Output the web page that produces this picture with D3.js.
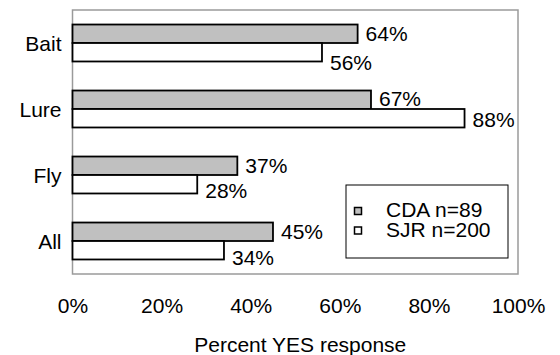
<!DOCTYPE html>
<html>
<head>
<meta charset="utf-8">
<script src="https://cdn.jsdelivr.net/npm/d3@7"></script>
<style>
  html, body { margin: 0; padding: 0; background: #fff; }
  svg text { font-family: "Liberation Sans", Arial, sans-serif; fill: #000; }
</style>
</head>
<body>
<svg id="chart" width="560" height="355"></svg>
<script>
// Share of anglers answering YES, by gear type
const categories = ["Bait", "Lure", "Fly", "All"];
const cdaValues = [64, 67, 37, 45];
const sjrValues = [56, 88, 28, 34];
const seriesNames = ["CDA n=89", "SJR n=200"];
const xTicks = [0, 20, 40, 60, 80, 100];
const xTitle = "Percent YES response";

// Layout
const W = 560, H = 355;
const plot = { left: 72.5, top: 10, right: 518, bottom: 274 };
const fontSize = 21;
const colors = ["#c0c0c0", "#ffffff"];
// extra downward shift of value labels so neighbouring labels don't collide
const labelNudge = [[0, -1, 0, 0], [10.5, 1, 6.5, 7]];

const svg = d3.select("#chart");

const x = d3.scaleLinear().domain([0, 100]).range([plot.left, plot.right]);
const y = d3.scaleBand().domain(categories).range([plot.top, plot.bottom])
  .paddingInner(0.44).paddingOuter(0.22);
const ySub = d3.scaleBand().domain([0, 1]).range([0, y.bandwidth()]);

const series = [cdaValues, sjrValues];

// Plot frame
svg.append("rect")
  .attr("x", plot.left).attr("y", plot.top)
  .attr("width", plot.right - plot.left).attr("height", plot.bottom - plot.top)
  .attr("fill", "none").attr("stroke", "#9a9a9a").attr("stroke-width", 1.5);

// Bars
series.forEach((vals, s) => {
  svg.append("g").selectAll("rect")
    .data(vals)
    .join("rect")
    .attr("x", x(0))
    .attr("y", (d, i) => y(categories[i]) + ySub(s))
    .attr("width", d => x(d) - x(0))
    .attr("height", ySub.bandwidth())
    .attr("fill", colors[s])
    .attr("stroke", "#000")
    .attr("stroke-width", 1.8);
});

// Value labels
series.forEach((vals, s) => {
  svg.append("g").selectAll("text")
    .data(vals)
    .join("text")
    .attr("x", d => x(d) + 8)
    .attr("y", (d, i) => y(categories[i]) + ySub(s) + ySub.bandwidth() / 2 + 7.5 + labelNudge[s][i])
    .attr("font-size", fontSize)
    .text(d => d + "%");
});

// Category axis (labels only)
const yAxis = svg.append("g")
  .attr("transform", `translate(${plot.left},0)`)
  .call(d3.axisLeft(y).tickSize(0).tickPadding(11));
yAxis.select(".domain").remove();
yAxis.selectAll("text")
  .attr("font-size", fontSize)
  .attr("font-family", null)
  .attr("dy", "0.36em");

// Value axis (labels only)
const xAxis = svg.append("g")
  .attr("transform", `translate(0,${plot.bottom})`)
  .call(d3.axisBottom(x).tickValues(xTicks).tickSize(0).tickPadding(24)
    .tickFormat(d => d + "%"));
xAxis.select(".domain").remove();
xAxis.selectAll("text")
  .attr("font-size", fontSize)
  .attr("font-family", null)
  .attr("dy", "0.71em");

// Axis title
svg.append("text")
  .attr("x", (plot.left + plot.right) / 2 + 5)
  .attr("y", 352)
  .attr("text-anchor", "middle")
  .attr("font-size", fontSize)
  .text(xTitle);

// Legend
const legend = svg.append("g").attr("transform", "translate(346,185)");
legend.append("rect")
  .attr("width", 162).attr("height", 73)
  .attr("fill", "#fff").attr("stroke", "#000").attr("stroke-width", 1);
seriesNames.forEach((name, s) => {
  const row = legend.append("g").attr("transform", `translate(0,${22 + s * 19.5})`);
  row.append("rect")
    .attr("x", 8.5).attr("y", 0.5)
    .attr("width", 7).attr("height", 7)
    .attr("fill", colors[s]).attr("stroke", "#000").attr("stroke-width", 1.5);
  row.append("text")
    .attr("x", 40).attr("y", 10)
    .attr("font-size", fontSize)
    .text(name);
});
</script>
</body>
</html>
